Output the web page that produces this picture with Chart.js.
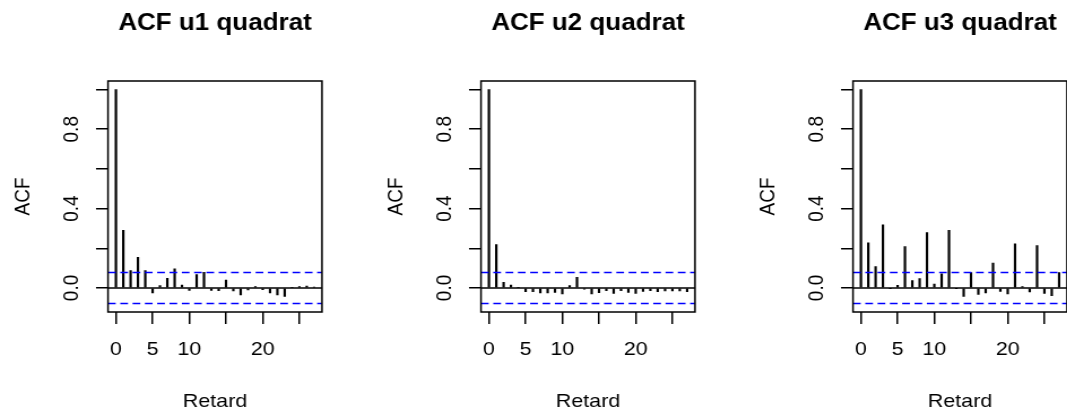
<!DOCTYPE html>
<html>
<head>
<meta charset="utf-8">
<script src="https://cdn.jsdelivr.net/npm/chart.js@4"></script>
<style>
  html, body { margin: 0; padding: 0; background: #fff; overflow: hidden; width: 1067px; height: 414px; position: relative; }
  .panel { position: absolute; top: 0; height: 414px; transform-origin: 0 0; }
</style>
</head>
<body>
<div class="panel" id="p1" style="left:0px"><canvas id="acf1"></canvas></div>
<div class="panel" id="p2" style="left:373px"><canvas id="acf2"></canvas></div>
<div class="panel" id="p3" style="left:745px"><canvas id="acf3"></canvas></div>
<script>
// Lags shown on every panel
const lags = [0, 1, 2, 3, 4, 5, 6, 7, 8, 9, 10, 11, 12, 13, 14, 15, 16, 17, 18, 19, 20, 21, 22, 23, 24, 25, 26, 27];

// Autocorrelations of the squared series u1, u2, u3
const acfU1 = [1.0, 0.290, 0.088, 0.155, 0.088, -0.025, 0.012, 0.049, 0.096, 0.015, -0.012, 0.067, 0.079, -0.012, -0.014, 0.040, -0.015, -0.035, -0.010, 0.007, -0.008, -0.025, -0.035, -0.042, 0.003, 0.007, 0.010, 0.005];
const acfU2 = [1.0, 0.219, 0.029, 0.015, 0.003, -0.019, -0.019, -0.025, -0.025, -0.022, -0.030, 0.012, 0.054, -0.006, -0.030, -0.024, -0.013, -0.027, -0.013, -0.022, -0.027, -0.017, -0.013, -0.019, -0.015, -0.015, -0.015, -0.019];
const acfU3 = [1.0, 0.227, 0.108, 0.318, -0.002, 0.013, 0.209, 0.037, 0.047, 0.279, 0.020, 0.071, 0.290, -0.002, -0.042, 0.078, -0.032, -0.025, 0.125, -0.017, -0.030, 0.222, 0.007, -0.020, 0.214, -0.027, -0.039, 0.078];

// Panel titles
const panelTitles = ['ACF u1 quadrat', 'ACF u2 quadrat', 'ACF u3 quadrat'];

// White-noise confidence bound (dashed blue lines at +/- this value)
const confBound = 0.078;

// Axis ticks and their labels
const xTickValues = [0, 5, 10, 15, 20, 25];
const xTickLabels = ['0', '5', '10', '', '20', ''];
const yTickValues = [0, 0.2, 0.4, 0.6, 0.8, 1.0];
const yTickLabels = ['0.0', '', '0.4', '', '0.8', ''];

const xAxisTitle = 'Retard';
const yAxisTitle = 'ACF';

// Layout: each panel is drawn on a narrower canvas and widened horizontally
const SX = 1.13;            // horizontal widening of every panel
const PANEL_W = 373;        // on-page width of one panel
const CW = PANEL_W / SX;    // canvas width
const CH = 414;
const BOX_L = 108, BOX_R = 322, BOX_T = 81, BOX_B = 312;   // on-page frame of the plot region

const FONT = '"Liberation Sans", Arial, Helvetica, sans-serif';
const AXIS_PX = 19;
const TITLE_PX = 23;
const LW = 1.5;

// R-style 4% range extension
const lagSpan = lags[lags.length - 1] - lags[0];
const xMin = lags[0] - 0.04 * lagSpan;
const xMax = lags[lags.length - 1] + 0.04 * lagSpan;

function makePanel(wrapId, canvasId, values, title) {
  const wrap = document.getElementById(wrapId);
  wrap.style.width = CW + 'px';
  wrap.style.transform = 'scaleX(' + SX + ')';
  const canvas = document.getElementById(canvasId);
  canvas.width = Math.round(CW);
  canvas.height = CH;

  const yLo = Math.min(-confBound, ...values);
  const yHi = Math.max(confBound, ...values);
  const ySpan = yHi - yLo;

  const decor = {
    id: 'acfDecor',
    beforeDraw(chart) {
      const ctx = chart.ctx;
      ctx.save();
      ctx.fillStyle = '#fff';
      ctx.fillRect(0, 0, chart.width, chart.height);
      ctx.restore();
    },
    afterDatasetsDraw(chart) {
      const ctx = chart.ctx;
      const a = chart.chartArea;
      const ys = chart.scales.y;
      ctx.save();
      ctx.beginPath();
      ctx.rect(a.left, a.top, a.right - a.left, a.bottom - a.top);
      ctx.clip();
      // zero line
      ctx.strokeStyle = '#000';
      ctx.lineWidth = LW;
      const y0 = ys.getPixelForValue(0);
      ctx.beginPath();
      ctx.moveTo(a.left, y0);
      ctx.lineTo(a.right, y0);
      ctx.stroke();
      // confidence bounds
      ctx.strokeStyle = '#0000ff';
      ctx.setLineDash([7.7 / SX, 4.6 / SX]);
      [confBound, -confBound].forEach(v => {
        const yy = ys.getPixelForValue(v);
        ctx.beginPath();
        ctx.moveTo(a.left, yy);
        ctx.lineTo(a.right, yy);
        ctx.stroke();
      });
      ctx.restore();
      // frame
      ctx.save();
      ctx.strokeStyle = '#000';
      ctx.lineWidth = LW;
      ctx.strokeRect(a.left, a.top, a.right - a.left, a.bottom - a.top);
      ctx.restore();
    },
    afterDraw(chart) {
      const ctx = chart.ctx;
      const a = chart.chartArea;
      const ys = chart.scales.y;
      const cx = (a.left + a.right) / 2;
      const cy = (a.top + a.bottom) / 2;
      ctx.save();
      ctx.fillStyle = '#000';
      // title
      ctx.font = 'bold ' + TITLE_PX + 'px ' + FONT;
      ctx.textAlign = 'center';
      ctx.textBaseline = 'alphabetic';
      ctx.fillText(title, cx, 30);
      // x axis title
      ctx.font = AXIS_PX + 'px ' + FONT;
      ctx.fillText(xAxisTitle, cx, 407);
      // y tick labels, rotated
      yTickValues.forEach((v, i) => {
        const lab = yTickLabels[i];
        if (!lab) return;
        ctx.save();
        ctx.translate(78 / SX, ys.getPixelForValue(v));
        ctx.rotate(-Math.PI / 2);
        ctx.textAlign = 'center';
        ctx.textBaseline = 'alphabetic';
        ctx.fillText(lab, 0, 0);
        ctx.restore();
      });
      // y axis title
      ctx.save();
      ctx.translate(29 / SX, cy);
      ctx.rotate(-Math.PI / 2);
      ctx.textAlign = 'center';
      ctx.textBaseline = 'alphabetic';
      ctx.fillText(yAxisTitle, 0, 0);
      ctx.restore();
      ctx.restore();
    }
  };

  return new Chart(canvas, {
    type: 'bar',
    data: {
      datasets: [{
        data: lags.map((k, i) => ({ x: k, y: values[i] })),
        backgroundColor: '#000',
        borderWidth: 0,
        barThickness: LW
      }]
    },
    options: {
      responsive: false,
      animation: false,
      devicePixelRatio: 1,
      layout: { padding: { top: BOX_T, right: canvas.width - BOX_R / SX, left: 0, bottom: 0 } },
      plugins: { legend: { display: false }, tooltip: { enabled: false }, title: { display: false } },
      scales: {
        x: {
          type: 'linear',
          min: xMin,
          max: xMax,
          offset: false,
          afterBuildTicks(scale) { scale.ticks = xTickValues.map(v => ({ value: v })); },
          afterFit(scale) { scale.height = CH - BOX_B; },
          ticks: {
            autoSkip: false,
            maxRotation: 0,
            minRotation: 0,
            padding: 14,
            color: '#000',
            font: { family: FONT, size: AXIS_PX },
            callback(value) {
              const i = xTickValues.indexOf(value);
              return i >= 0 ? xTickLabels[i] : '';
            }
          },
          grid: { display: true, offset: false, drawOnChartArea: false, drawTicks: true, tickLength: 12, color: '#000', lineWidth: LW },
          border: { display: false }
        },
        y: {
          min: yLo - 0.04 * ySpan,
          max: yHi + 0.04 * ySpan,
          afterBuildTicks(scale) { scale.ticks = yTickValues.map(v => ({ value: v })); },
          afterFit(scale) { scale.width = BOX_L / SX; },
          ticks: { display: false },
          grid: { display: true, drawOnChartArea: false, drawTicks: true, tickLength: 12 / SX, color: '#000', lineWidth: LW },
          border: { display: false }
        }
      }
    },
    plugins: [decor]
  });
}

makePanel('p1', 'acf1', acfU1, panelTitles[0]);
makePanel('p2', 'acf2', acfU2, panelTitles[1]);
makePanel('p3', 'acf3', acfU3, panelTitles[2]);
</script>
</body>
</html>
